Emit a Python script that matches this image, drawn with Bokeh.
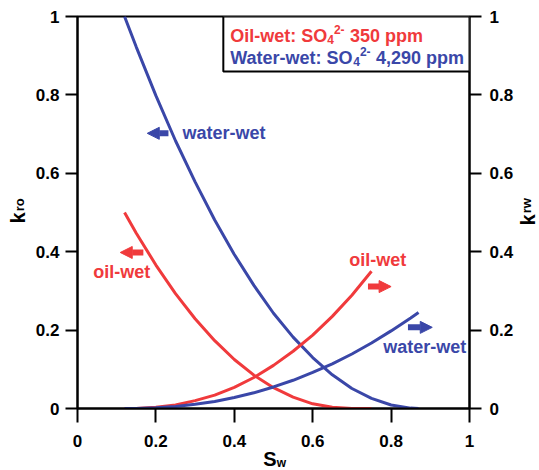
from bokeh.plotting import figure
from bokeh.models import (Range1d, LinearAxis, FixedTicker, Label, BoxAnnotation,
                          Arrow, NormalHead)
from bokeh.embed import file_html
from bokeh.resources import INLINE
import math

# ---------------- data ----------------
tick_values = [0, 0.2, 0.4, 0.6, 0.8, 1]
tick_labels = ["0", "0.2", "0.4", "0.6", "0.8", "1"]

# water-wet (blue) kro
sw_kro_ww = [0.12, 0.15, 0.20, 0.25, 0.30, 0.35, 0.40, 0.45, 0.50, 0.55, 0.60,
             0.65, 0.70, 0.75, 0.80, 0.85, 0.87]
kro_ww = [1.0, 0.922, 0.798, 0.683, 0.578, 0.481, 0.393, 0.314, 0.243, 0.182,
          0.130, 0.086, 0.051, 0.026, 0.009, 0.001, 0.0]

# oil-wet (red) kro
sw_kro_ow = [0.12, 0.15, 0.20, 0.25, 0.30, 0.35, 0.40, 0.45, 0.50, 0.55, 0.60,
             0.65, 0.70, 0.75]
kro_ow = [0.5, 0.447, 0.366, 0.293, 0.229, 0.173, 0.125, 0.085, 0.053, 0.029,
          0.012, 0.003, 0.0, 0.0]

# oil-wet (red) krw
sw_krw_ow = [0.12, 0.15, 0.20, 0.25, 0.30, 0.35, 0.40, 0.45, 0.50, 0.55, 0.60,
             0.65, 0.70, 0.75]
krw_ow = [0.0, 0.0003, 0.003, 0.009, 0.020, 0.034, 0.054, 0.079, 0.110, 0.146,
          0.187, 0.235, 0.289, 0.35]

# water-wet (blue) krw
sw_krw_ww = [0.12, 0.15, 0.20, 0.25, 0.30, 0.35, 0.40, 0.45, 0.50, 0.55, 0.60,
             0.65, 0.70, 0.75, 0.80, 0.85, 0.87]
krw_ww = [0.0, 0.0002, 0.0018, 0.005, 0.011, 0.018, 0.028, 0.040, 0.055, 0.072,
          0.092, 0.114, 0.139, 0.167, 0.198, 0.231, 0.245]

# legend text pieces: (main text, subscript, superscript, tail)
legend_oil = ["Oil-wet: SO", "4", "2-", "350 ppm"]
legend_water = ["Water-wet: SO", "4", "2-", "4,290 ppm"]

RED = "#f03a3c"
BLUE = "#3a47a8"
FONT = "Liberation Sans"

# ---------------- figure ----------------
p = figure(width=539, height=470, output_backend="svg", toolbar_location=None,
           x_range=Range1d(0, 1), y_range=Range1d(0, 1),
           min_border_left=77, min_border_right=70, min_border_top=16,
           min_border_bottom=62)
p.frame_width = 392
p.frame_height = 392
p.extra_y_ranges = {"krw": Range1d(0, 1)}
p.grid.visible = False
p.outline_line_color = "black"
p.outline_line_width = 2
p.background_fill_color = "white"
p.border_fill_color = "white"

overrides = {v: l for v, l in zip(tick_values, tick_labels)}

def style_axis(ax, standoff):
    ax.ticker = FixedTicker(ticks=tick_values)
    ax.major_label_overrides = overrides
    ax.axis_line_width = 2
    ax.axis_line_color = "black"
    ax.major_tick_line_width = 2
    ax.major_tick_line_color = "black"
    ax.major_tick_in = 0
    ax.major_tick_out = 12
    ax.minor_tick_line_color = None
    ax.major_label_text_font = FONT
    ax.major_label_text_font_style = "bold"
    ax.major_label_text_font_size = "17px"
    ax.major_label_text_color = "black"
    ax.major_label_standoff = standoff

style_axis(p.xaxis[0], 12)
p.xaxis[0].major_tick_out = 14
style_axis(p.yaxis[0], 6)
right = LinearAxis(y_range_name="krw")
style_axis(right, 8)
p.add_layout(right, "right")

# ---------------- curves ----------------
p.line(sw_kro_ww, kro_ww, line_color=BLUE, line_width=3)
p.line(sw_kro_ow, kro_ow, line_color=RED, line_width=3)
p.line(sw_krw_ow, krw_ow, line_color=RED, line_width=3, y_range_name="krw")
p.line(sw_krw_ww, krw_ww, line_color=BLUE, line_width=3, y_range_name="krw")

# ---------------- legend box ----------------
p.add_layout(BoxAnnotation(left=0.372, right=1.0, bottom=0.86, top=1.0,
                           fill_color="white", fill_alpha=1.0,
                           line_color="black", line_alpha=1.0, line_width=2,
                           level="overlay"))

def piece(x, y, txt, col, size):
    p.add_layout(Label(x=x, y=y, text=txt, text_color=col, text_font=FONT,
                       text_font_style="bold", text_font_size=size,
                       text_baseline="middle", text_align="left",
                       level="overlay"))

def legend_line(parts, col, mid_y, px_main):
    x0 = 0.3895
    main, sub, sup, tail = parts
    piece(x0, mid_y, main, col, "18px")
    xs = x0 + px_main / 392
    piece(xs, mid_y - 4.0 / 392, sub, col, "12px")
    xu = xs + 6.7 / 392
    piece(xu, mid_y + 6.0 / 392, sup, col, "12px")
    xt = xu + 16.0 / 392
    piece(xt, mid_y, tail, col, "18px")

legend_line(legend_oil, RED, 0.9515, 97.0)
legend_line(legend_water, BLUE, 0.8954, 123.0)

# ---------------- annotations ----------------
def arrow(x0, x1, y, col):
    p.add_layout(Arrow(end=NormalHead(size=12, fill_color=col, line_color=col,
                                      line_width=1),
                       x_start=x0, y_start=y, x_end=x1, y_end=y,
                       line_color=col, line_width=6))

arrow(0.232, 0.178, 0.702, BLUE)
arrow(0.168, 0.109, 0.398, RED)
arrow(0.741, 0.800, 0.311, RED)
arrow(0.843, 0.905, 0.207, BLUE)

def note(x, y, txt, col):
    p.add_layout(Label(x=x, y=y, text=txt, text_color=col, text_font=FONT,
                       text_font_style="bold", text_font_size="18px",
                       text_baseline="middle", text_align="left"))

note(0.268, 0.702, "water-wet", BLUE)
note(0.040, 0.347, "oil-wet", RED)
note(0.693, 0.378, "oil-wet", RED)
note(0.780, 0.156, "water-wet", BLUE)

# ---------------- axis titles (kept in the bottom panel, placed by data coords) ----------------
def title(x, y, txt, size, angle=0.0):
    p.add_layout(Label(x=x, y=y, text=txt, text_color="black", text_font=FONT,
                       text_font_style="bold", text_font_size=size,
                       text_baseline="middle", text_align="left",
                       angle=angle), "below")

title(0.474, -0.1276, "S", "20px")
title(0.508, -0.1378, "w", "12px")
title(-0.1513, 0.472, "k", "20px", math.pi / 2)
title(-0.1474, 0.503, "ro", "13px", math.pi / 2)
title(1.1497, 0.467, "k", "20px", math.pi / 2)
title(1.1460, 0.498, "rw", "13px", math.pi / 2)

open("out.html", "w").write(file_html(p, INLINE))
